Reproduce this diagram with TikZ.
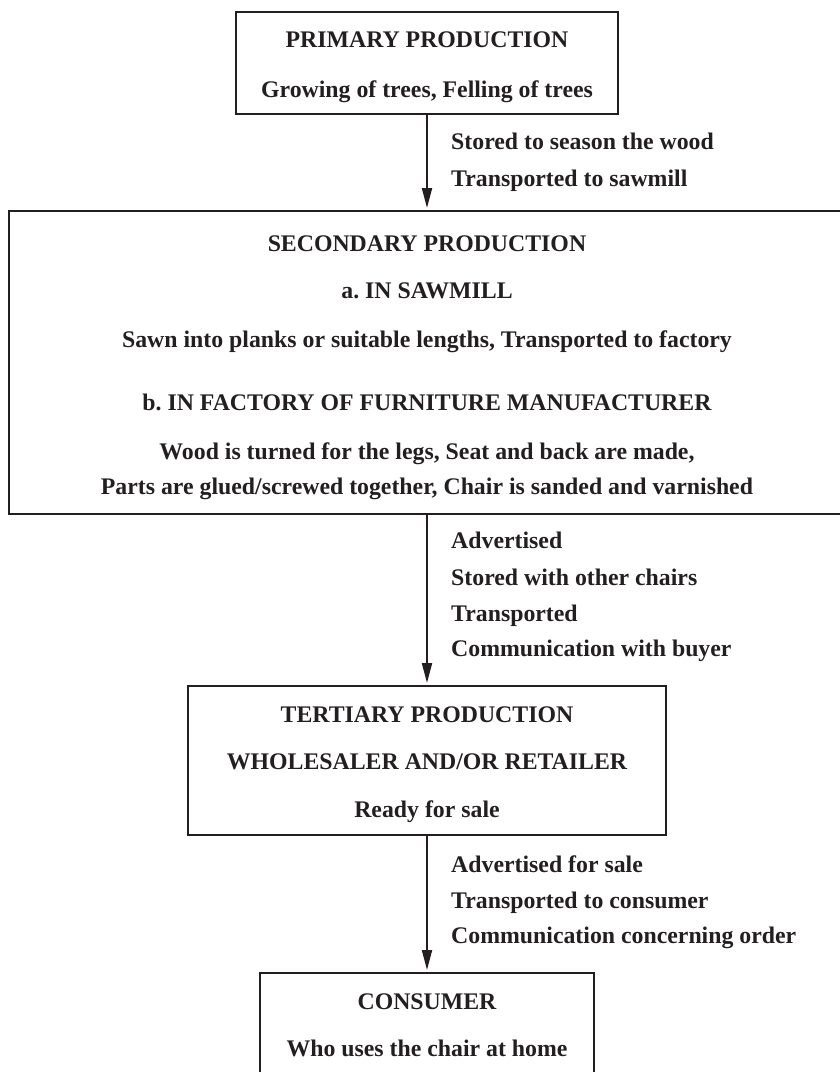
\documentclass[tikz,border=0pt]{standalone}
\usepackage{fontspec}
\setmainfont{Liberation Serif}
\usetikzlibrary{arrows.meta}
\definecolor{ink}{RGB}{35,31,32}
\frenchspacing
\begin{document}
\begin{tikzpicture}[x=1pt,y=-1pt,
  box/.style={draw=ink,line width=2pt,inner sep=0pt},
  txt/.style={anchor=base,text=ink,inner sep=0pt,font=\fontsize{23.8}{28}\selectfont\bfseries},
  lbl/.style={txt,anchor=base west},
  conn/.style={draw=ink,line width=2pt,shorten >=2pt,-{Triangle[length=20pt,width=10pt]}}]
\useasboundingbox (0,0) rectangle (839,1072);
% boxes
\node[box,minimum width=382pt,minimum height=102pt] (prim) at (427,63) {};
\node[box,minimum width=836pt,minimum height=303pt] (sec) at (427,362.5) {};
\node[box,minimum width=478pt,minimum height=149pt] (ter) at (427,760.5) {};
\node[box,minimum width=334pt,minimum height=102pt] (con) at (427,1024) {};
% texts in boxes
\node[txt] (p1) at (427,47.5) {PRIMARY PRODUCTION};
\node[txt] (p2) at (427,97) {Growing of trees, Felling of trees};
\node[txt] (s1) at (427,251) {SECONDARY PRODUCTION};
\node[txt] (s2) at (427,298) {a. IN SAWMILL};
\node[txt] (s3) at (427,347.5) {Sawn into planks or suitable lengths, Transported to factory};
\node[txt] (s4) at (427,410.5) {b. IN FACTORY OF FURNITURE MANUFACTURER};
\node[txt] (s5) at (427,459) {Wood is turned for the legs, Seat and back are made,};
\node[txt] (s6) at (427,494.5) {Parts are glued/screwed together, Chair is sanded and varnished};
\node[txt] (t1) at (427,722.5) {TERTIARY PRODUCTION};
\node[txt] (t2) at (427,769.5) {WHOLESALER AND/OR RETAILER};
\node[txt] (t3) at (427,817.5) {Ready for sale};
\node[txt] (c1) at (427,1009.5) {CONSUMER};
\node[txt] (c2) at (427,1056.5) {Who uses the chair at home};
% connector labels
\node[lbl] (a1) at (451,149.5) {Stored to season the wood};
\node[lbl] (a2) at (451,186.5) {Transported to sawmill};
\node[lbl] (b1) at (451,548.5) {Advertised};
\node[lbl] (b2) at (451,585.5) {Stored with other chairs};
\node[lbl] (b3) at (451,621.5) {Transported};
\node[lbl] (b4) at (451,656.5) {Communication with buyer};
\node[lbl] (d1) at (451,872.5) {Advertised for sale};
\node[lbl] (d2) at (451,908.5) {Transported to consumer};
\node[lbl] (d3) at (451,943.5) {Communication concerning order};
% connectors
\draw[conn] (prim.south) -- (sec.north);
\draw[conn] (sec.south) -- (ter.north);
\draw[conn] (ter.south) -- (con.north);
\end{tikzpicture}
\end{document}
